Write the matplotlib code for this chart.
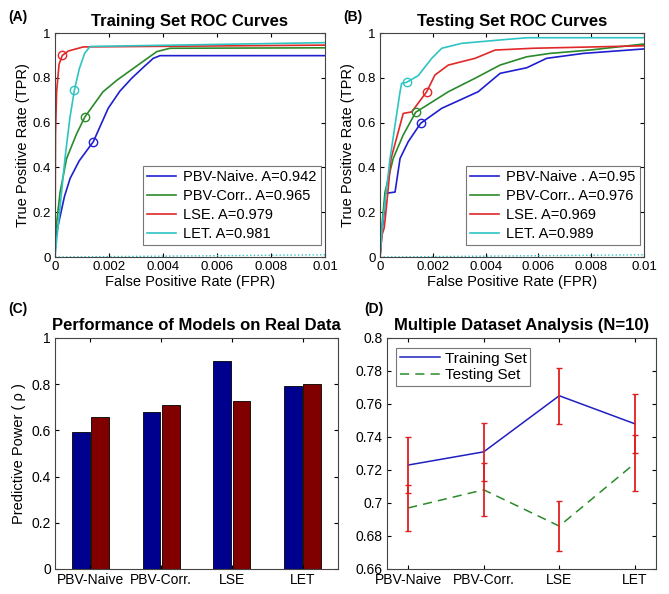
import matplotlib
matplotlib.use("Agg")
import matplotlib.pyplot as plt
import numpy as np

plt.rcParams["font.family"] = ["Liberation Sans", "DejaVu Sans"]

# ── Data ─────────────────────────────────────────────────────────────────────
models = ["PBV-Naive", "PBV-Corr.", "LSE", "LET"]

# (A) training ROC curves  (FPR, TPR)
trA_naive_fpr = [0, 0.00003, 0.00012, 0.00035, 0.00056, 0.0009, 0.00142, 0.00197, 0.0024, 0.00284, 0.0033, 0.00364, 0.00389, 0.01]
trA_naive_tpr = [0, 0.09, 0.143, 0.27, 0.351, 0.43, 0.515, 0.664, 0.74, 0.798, 0.85, 0.887, 0.899, 0.899]
trA_corr_fpr = [0, 0.00003, 0.00019, 0.00043, 0.0008, 0.00111, 0.00178, 0.0023, 0.0029, 0.00377, 0.00426, 0.01]
trA_corr_tpr = [0, 0.12, 0.29, 0.44, 0.55, 0.626, 0.738, 0.79, 0.842, 0.917, 0.932, 0.934]
trA_lse_fpr = [0, 0.00002, 0.00006, 0.00015, 0.00027, 0.0005, 0.00105, 0.01]
trA_lse_tpr = [0, 0.55, 0.738, 0.86, 0.90, 0.92, 0.938, 0.946]
trA_let_fpr = [0, 0.00004, 0.00012, 0.00037, 0.00055, 0.00072, 0.0009, 0.0011, 0.0013, 0.01]
trA_let_tpr = [0, 0.05, 0.143, 0.44, 0.62, 0.746, 0.84, 0.91, 0.94, 0.957]
aucA = [0.942, 0.965, 0.979, 0.981]
opA_fpr = [0.00142, 0.00111, 0.00027, 0.00072]
opA_tpr = [0.515, 0.626, 0.90, 0.746]

# (B) testing ROC curves
teB_naive_fpr = [0, 0.00008, 0.00016, 0.0002, 0.00057, 0.00076, 0.00107, 0.00154, 0.00234, 0.00372, 0.00455, 0.00556, 0.00631, 0.0077, 0.01]
teB_naive_tpr = [0, 0.12, 0.202, 0.284, 0.29, 0.44, 0.515, 0.597, 0.664, 0.738, 0.82, 0.845, 0.887, 0.909, 0.929]
teB_corr_fpr = [0, 0.00008, 0.00019, 0.0005, 0.00088, 0.00135, 0.00259, 0.0036, 0.00455, 0.00556, 0.00644, 0.00795, 0.01]
teB_corr_tpr = [0, 0.15, 0.29, 0.44, 0.545, 0.646, 0.738, 0.798, 0.857, 0.894, 0.909, 0.924, 0.951]
teB_lse_fpr = [0, 0.00008, 0.00016, 0.00022, 0.00042, 0.00088, 0.0012, 0.00177, 0.00208, 0.00259, 0.0036, 0.00436, 0.0058, 0.01]
teB_lse_tpr = [0, 0.1, 0.13, 0.196, 0.44, 0.641, 0.648, 0.738, 0.8125, 0.857, 0.887, 0.924, 0.932, 0.943]
teB_let_fpr = [0, 0.00009, 0.00038, 0.00057, 0.00076, 0.00082, 0.00101, 0.00145, 0.00196, 0.00234, 0.0031, 0.00455, 0.00556, 0.01]
teB_let_tpr = [0, 0.143, 0.44, 0.589, 0.738, 0.775, 0.78, 0.81, 0.887, 0.932, 0.954, 0.969, 0.979, 0.979]
aucB = ["0.95", "0.976", "0.969", "0.989"]
opB_fpr = [0.00154, 0.00135, 0.00177, 0.00101]
opB_tpr = [0.597, 0.646, 0.738, 0.78]

# (C) predictive power on real data
power_train = [0.595, 0.68, 0.90, 0.793]
power_test = [0.66, 0.71, 0.728, 0.80]

# (D) multiple dataset analysis
multi_train = [0.723, 0.731, 0.765, 0.748]
multi_test = [0.697, 0.708, 0.686, 0.724]
multi_train_err = [0.017, 0.0175, 0.017, 0.018]
multi_test_err = [0.014, 0.016, 0.015, 0.017]

colours = ["#1f1fd0", "#2a8a2a", "#e02828", "#2ec4c4"]

fig = plt.figure(figsize=(6.69, 5.94), dpi=100)

def style_axes(ax, size=9.5):
    ax.tick_params(direction="in", length=3, labelsize=size, top=True, right=True, pad=3)
    for sp in ax.spines.values():
        sp.set_linewidth(0.8)
        sp.set_color("#444444")

roc_xticks = [0, 0.002, 0.004, 0.006, 0.008, 0.01]
roc_xlabels = ["0", "0.002", "0.004", "0.006", "0.008", "0.01"]
roc_yticks = [0, 0.2, 0.4, 0.6, 0.8, 1]
roc_ylabels = ["0", "0.2", "0.4", "0.6", "0.8", "1"]

def roc_panel(ax, curves, op_fpr, op_tpr, labels, title):
    for (fx, ty), c, lab in zip(curves, colours, labels):
        ax.plot(fx, ty, color=c, lw=1.2, label=lab)
    for fx, ty, c in zip(op_fpr, op_tpr, colours):
        ax.plot(fx, ty, "o", mfc="none", mec=c, ms=6, mew=1)
    ax.plot([0, 0.01], [0, 0.01], ":", color=colours[3], lw=1)
    ax.set_xlim(0, 0.01)
    ax.set_ylim(0, 1)
    ax.set_xticks(roc_xticks)
    ax.set_xticklabels(roc_xlabels)
    ax.set_yticks(roc_yticks)
    ax.set_yticklabels(roc_ylabels)
    ax.set_xlabel("False Positive Rate (FPR)", fontsize=10.5, labelpad=1)
    ax.set_ylabel("True Positive Rate (TPR)", fontsize=10.5, labelpad=2)
    ax.set_title(title, fontsize=12, fontweight="bold", pad=5)
    style_axes(ax)
    leg = ax.legend(loc="lower right", bbox_to_anchor=(0.995, 0.04), fontsize=10.5,
                    frameon=True, fancybox=False, handlelength=2.0,
                    borderpad=0.3, labelspacing=0.33, handletextpad=0.45,
                    borderaxespad=0.2)
    leg.get_frame().set_edgecolor("#555555")
    leg.get_frame().set_linewidth(0.8)

# ── (A) Training ROC ─────────────────────────────────────────────────────────
axA = fig.add_axes([0.0822, 0.5673, 0.4036, 0.3771])
labelsA = ["PBV-Naive. A=%.3f" % aucA[0], "PBV-Corr.. A=%.3f" % aucA[1],
           "LSE. A=%.3f" % aucA[2], "LET. A=%.3f" % aucA[3]]
roc_panel(axA, [(trA_naive_fpr, trA_naive_tpr), (trA_corr_fpr, trA_corr_tpr),
                (trA_lse_fpr, trA_lse_tpr), (trA_let_fpr, trA_let_tpr)],
          opA_fpr, opA_tpr, labelsA, "Training Set ROC Curves")

# ── (B) Testing ROC ──────────────────────────────────────────────────────────
axB = fig.add_axes([0.568, 0.5673, 0.3946, 0.3771])
labelsB = ["PBV-Naive . A=" + aucB[0], "PBV-Corr.. A=" + aucB[1],
           "LSE. A=" + aucB[2], "LET. A=" + aucB[3]]
roc_panel(axB, [(teB_naive_fpr, teB_naive_tpr), (teB_corr_fpr, teB_corr_tpr),
                (teB_lse_fpr, teB_lse_tpr), (teB_let_fpr, teB_let_tpr)],
          opB_fpr, opB_tpr, labelsB, "Testing Set ROC Curves")

# ── (C) Bar chart ────────────────────────────────────────────────────────────
axC = fig.add_axes([0.0822, 0.0421, 0.423, 0.3889])
x = np.arange(1, len(models) + 1)
axC.bar(x - 0.135, power_train, width=0.25, color="#00008f", edgecolor="black", lw=0.6)
axC.bar(x + 0.135, power_test, width=0.25, color="#800000", edgecolor="black", lw=0.6)
axC.set_xlim(0.5, 4.5)
axC.set_ylim(0, 1)
axC.set_xticks(x)
axC.set_xticklabels(models)
axC.set_yticks([0, 0.2, 0.4, 0.6, 0.8, 1])
axC.set_yticklabels(["0", "0.2", "0.4", "0.6", "0.8", "1"])
axC.set_ylabel("Predictive Power ( ρ )", fontsize=10.5, labelpad=4)
axC.set_title("Performance of Models on Real Data", fontsize=12, fontweight="bold", pad=6)
style_axes(axC, 10)

# ── (D) Multiple dataset analysis ────────────────────────────────────────────
axD = fig.add_axes([0.5785, 0.0421, 0.402, 0.3889])
axD.plot(x, multi_train, "-", color="#2020c0", lw=1.1, label="Training Set")
axD.plot(x, multi_test, "--", color="#2a8a2a", lw=1.1, dashes=(6, 4), label="Testing Set")
axD.errorbar(x, multi_train, yerr=multi_train_err, fmt="none", ecolor="#e02020",
             elinewidth=1.3, capsize=2.5, capthick=1)
axD.errorbar(x, multi_test, yerr=multi_test_err, fmt="none", ecolor="#e02020",
             elinewidth=1.3, capsize=2.5, capthick=1)
axD.set_xlim(0.72, 4.28)
axD.set_ylim(0.66, 0.8)
axD.set_xticks(x)
axD.set_xticklabels(models)
dy = [0.66, 0.68, 0.7, 0.72, 0.74, 0.76, 0.78, 0.8]
axD.set_yticks(dy)
axD.set_yticklabels(["0.66", "0.68", "0.7", "0.72", "0.74", "0.76", "0.78", "0.8"])
axD.set_title("Multiple Dataset Analysis (N=10)", fontsize=12, fontweight="bold", pad=6)
style_axes(axD, 10)
legD = axD.legend(loc="upper left", fontsize=11, frameon=True, fancybox=False,
                  handlelength=2.6, borderpad=0.25, labelspacing=0.15,
                  handletextpad=0.35, bbox_to_anchor=(0.005, 0.99))
legD.get_frame().set_edgecolor("#555555")
legD.get_frame().set_linewidth(0.8)

# ── Panel labels ─────────────────────────────────────────────────────────────
for lab, px, py in [("(A)", 8, 17), ("(B)", 343, 17), ("(C)", 8, 309), ("(D)", 364, 309)]:
    fig.text(px / 669, 1 - py / 594, lab, fontsize=10, fontweight="bold",
             ha="left", va="center")

plt.savefig("out.png", dpi=100)
plt.close()
